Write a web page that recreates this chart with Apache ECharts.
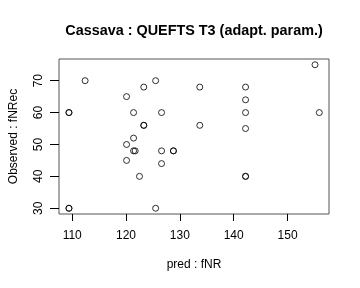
<!DOCTYPE html>
<html><head><meta charset="utf-8">
<script src="https://cdn.jsdelivr.net/npm/echarts@6/dist/echarts.min.js"></script>
<style>html,body{margin:0;padding:0;background:#fff}#c{width:360px;height:288px}</style>
</head><body><div id="c"></div>
<script>
const titleText = "Cassava : QUEFTS T3 (adapt. param.)";
const xName = "pred : fNR";
const yName = "Observed : fNRec";
const xTicks = [110, 120, 130, 140, 150];
const yTicks = [30, 40, 50, 60, 70];
const predFNR = [112.4,125.5,123.3,133.7,142.2,155.1,120.1,142.2,109.4,109.4,121.4,126.6,142.2,155.9,123.3,123.3,133.7,142.2,121.4,120.1,121.4,121.7,126.6,128.8,128.8,120.1,126.6,122.5,142.2,142.2,109.4,109.4,125.5];
const obsFNRec = [70,70,68,68,68,75,65,64,60,60,60,60,60,60,56,56,56,55,52,50,48,48,48,48,48,45,44,40,40,40,30,30,30];

const pts = predFNR.map((x, i) => [x, obsFNRec[i]]);
const font = "Liberation Sans, Arial, sans-serif";
const chart = echarts.init(document.getElementById('c'), null, {renderer: 'canvas'});
chart.setOption({
  animation: false,
  backgroundColor: '#fff',
  graphic: [{type: 'text', x: 194, y: 31.5,
    style: {text: titleText, textAlign: 'center', textVerticalAlign: 'middle',
      font: 'bold 14.4px ' + font, fill: '#000'}}],
  grid: {left: 59, top: 59, right: 31, bottom: 74, show: true, borderColor: '#555', borderWidth: 1, backgroundColor: 'transparent'},
  xAxis: {
    type: 'value', min: 107.55, max: 157.7,
    name: xName, nameLocation: 'middle', nameGap: 45,
    nameTextStyle: {fontFamily: font, fontSize: 12, color: '#000'},
    axisLine: {show: false},
    splitLine: {show: false},
    axisTick: {show: true, inside: false, length: 7, lineStyle: {color: '#000'}, customValues: xTicks},
    axisLabel: {customValues: xTicks, margin: 16, fontFamily: font, fontSize: 12, color: '#000'}
  },
  yAxis: {
    type: 'value', min: 28.2, max: 76.8,
    name: yName, nameLocation: 'middle', nameGap: 39, nameRotate: 90,
    nameTextStyle: {fontFamily: font, fontSize: 12, color: '#000'},
    axisLine: {show: false},
    splitLine: {show: false},
    axisTick: {show: true, inside: false, length: 9, lineStyle: {color: '#000'}, customValues: yTicks},
    axisLabel: {customValues: yTicks, rotate: 90, margin: 14, fontFamily: font, fontSize: 12, color: '#000'}
  },
  series: [{
    type: 'scatter', data: pts, symbol: 'circle', symbolSize: 6,
    itemStyle: {color: 'transparent', borderColor: '#000', borderWidth: 1}
  }]
});
</script></body></html>
